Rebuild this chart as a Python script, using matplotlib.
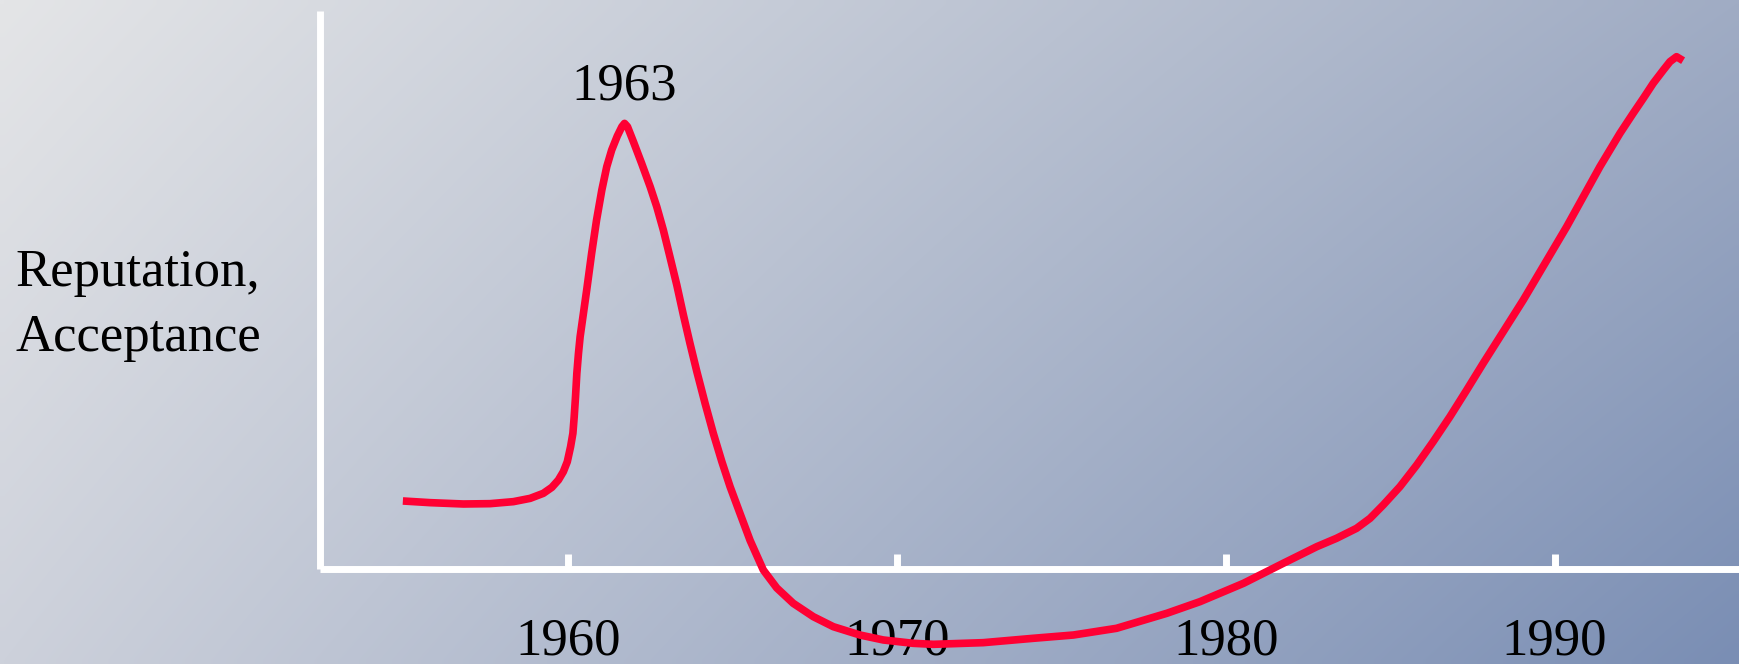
import numpy as np
import matplotlib
matplotlib.use("Agg")
import matplotlib.pyplot as plt

# ---------------- data ----------------
years = [1954.98, 1955.81, 1956.82, 1957.63, 1958.34, 1958.85,
         1959.25, 1959.51, 1959.71, 1959.86, 1959.98,
         1960.08, 1960.15, 1960.19, 1960.23, 1960.27, 1960.32, 1960.37, 1960.47, 1960.57, 1960.72, 1960.87,
         1961.03, 1961.18, 1961.33, 1961.50, 1961.64, 1961.72, 1961.81, 1961.99,
         1962.24, 1962.50, 1962.70, 1962.90,
         1963.10, 1963.31, 1963.51, 1963.71, 1963.92,
         1964.17, 1964.42, 1964.68, 1964.93,
         1965.23, 1965.54, 1965.94, 1966.35, 1966.85, 1967.46, 1968.07, 1968.88, 1969.59,
         1970.50, 1971.11, 1972.63, 1974.15, 1975.37, 1976.68, 1978.21, 1979.22,
         1980.54, 1981.75, 1982.77, 1983.37, 1983.98, 1984.39, 1984.79, 1985.30, 1985.81,
         1986.31, 1986.82, 1987.33, 1987.83, 1988.44, 1989.05, 1989.35, 1990.37,
         1991.38, 1991.99, 1992.39, 1992.70, 1993.00, 1993.31, 1993.51, 1993.71, 1993.91]
reputation = [12.19, 11.89, 11.65, 11.71, 12.07, 12.66,
              13.56, 14.63, 15.95, 17.44, 19.23,
              21.92, 24.31, 27.30, 30.88, 35.06, 38.65, 41.63, 45.81, 50.00, 56.57, 62.54,
              67.92, 72.10, 75.09, 77.59, 79.27, 79.86, 79.27, 76.58,
              72.70, 68.51, 64.93, 60.75,
              55.97, 50.89, 45.52, 40.44, 35.36,
              29.68, 24.31, 19.23, 14.75,
              9.98, 5.10, -0.18, -3.40, -6.15, -8.54, -10.34, -11.83, -12.72,
              -13.32, -13.50, -13.20, -12.42, -11.83, -10.63, -7.94, -5.85,
              -2.57, 1.02, 4.00, 5.50, 7.29, 9.08, 11.47, 14.76, 18.64,
              22.82, 27.30, 32.08, 36.86, 42.53, 48.21, 51.19, 61.35,
              72.10, 78.08, 81.66, 84.35, 87.04, 89.43, 90.92, 91.81, 91.10]
tick_years = [1960, 1970, 1980, 1990]
tick_labels = ["1960", "1970", "1980", "1990"]
peak_label = "1963"
ylabel_lines = ["Reputation,", "Acceptance"]

# ---------------- figure ----------------
W, H, DPI = 1740, 664, 100
fig = plt.figure(figsize=(W / DPI, H / DPI), dpi=DPI)

# background gradient (bilinear between corner colours)
tl = np.array([228, 229, 231]) / 255
tr = np.array([160, 172, 196]) / 255
bl = np.array([205, 209, 219]) / 255
br = np.array([122, 142, 180]) / 255
u = np.linspace(0, 1, 200)[None, :, None]
v = np.linspace(0, 1, 80)[:, None, None]
grad = (1 - u) * (1 - v) * tl + u * (1 - v) * tr + (1 - u) * v * bl + u * v * br
bg = fig.add_axes([0, 0, 1, 1], zorder=-10)
bg.imshow(grad, aspect="auto", extent=(0, 1, 0, 1), interpolation="bilinear", origin="upper")
bg.set_axis_off()

font = "Liberation Serif"
fs = 38

# main axes: left spine at x=320px, bottom spine at y=569px, top at y=11px
ax = fig.add_axes([320 / W, (H - 569) / H, (W - 320) / W, 558 / H])
ax.patch.set_alpha(0)
ax.set_xlim(1952.46, 1995.64)
ax.set_ylim(0, 100)

for side in ("top", "right"):
    ax.spines[side].set_visible(False)
for side in ("left", "bottom"):
    ax.spines[side].set_color("white")
    ax.spines[side].set_linewidth(5)
    ax.spines[side].set_capstyle("butt")

ax.set_yticks([])
ax.set_xticks(tick_years)
ax.set_xticklabels(tick_labels, fontfamily=font, fontsize=fs, color="black")
ax.tick_params(axis="x", direction="in", length=11, width=5, color="white", pad=35)

ax.plot(years, reputation, color="#ff0033", lw=5.5, solid_capstyle="butt",
        solid_joinstyle="round", clip_on=False, zorder=5)

# peak annotation
early = [i for i, y in enumerate(years) if y < 1970]
ipk = max(early, key=lambda i: reputation[i])
ax.annotate(peak_label, xy=(years[ipk], reputation[ipk]), xytext=(0, 17.3),
            textcoords="offset points", ha="center", va="baseline",
            fontfamily=font, fontsize=fs, color="black", annotation_clip=False)

# y label (two lines, left aligned)
fig.text(15.5 / W, 1 - 286 / H, ylabel_lines[0], ha="left", va="baseline",
         fontfamily=font, fontsize=fs, color="black")
fig.text(15.5 / W, 1 - 351 / H, ylabel_lines[1], ha="left", va="baseline",
         fontfamily=font, fontsize=fs, color="black")

fig.savefig("out.png", dpi=DPI)
